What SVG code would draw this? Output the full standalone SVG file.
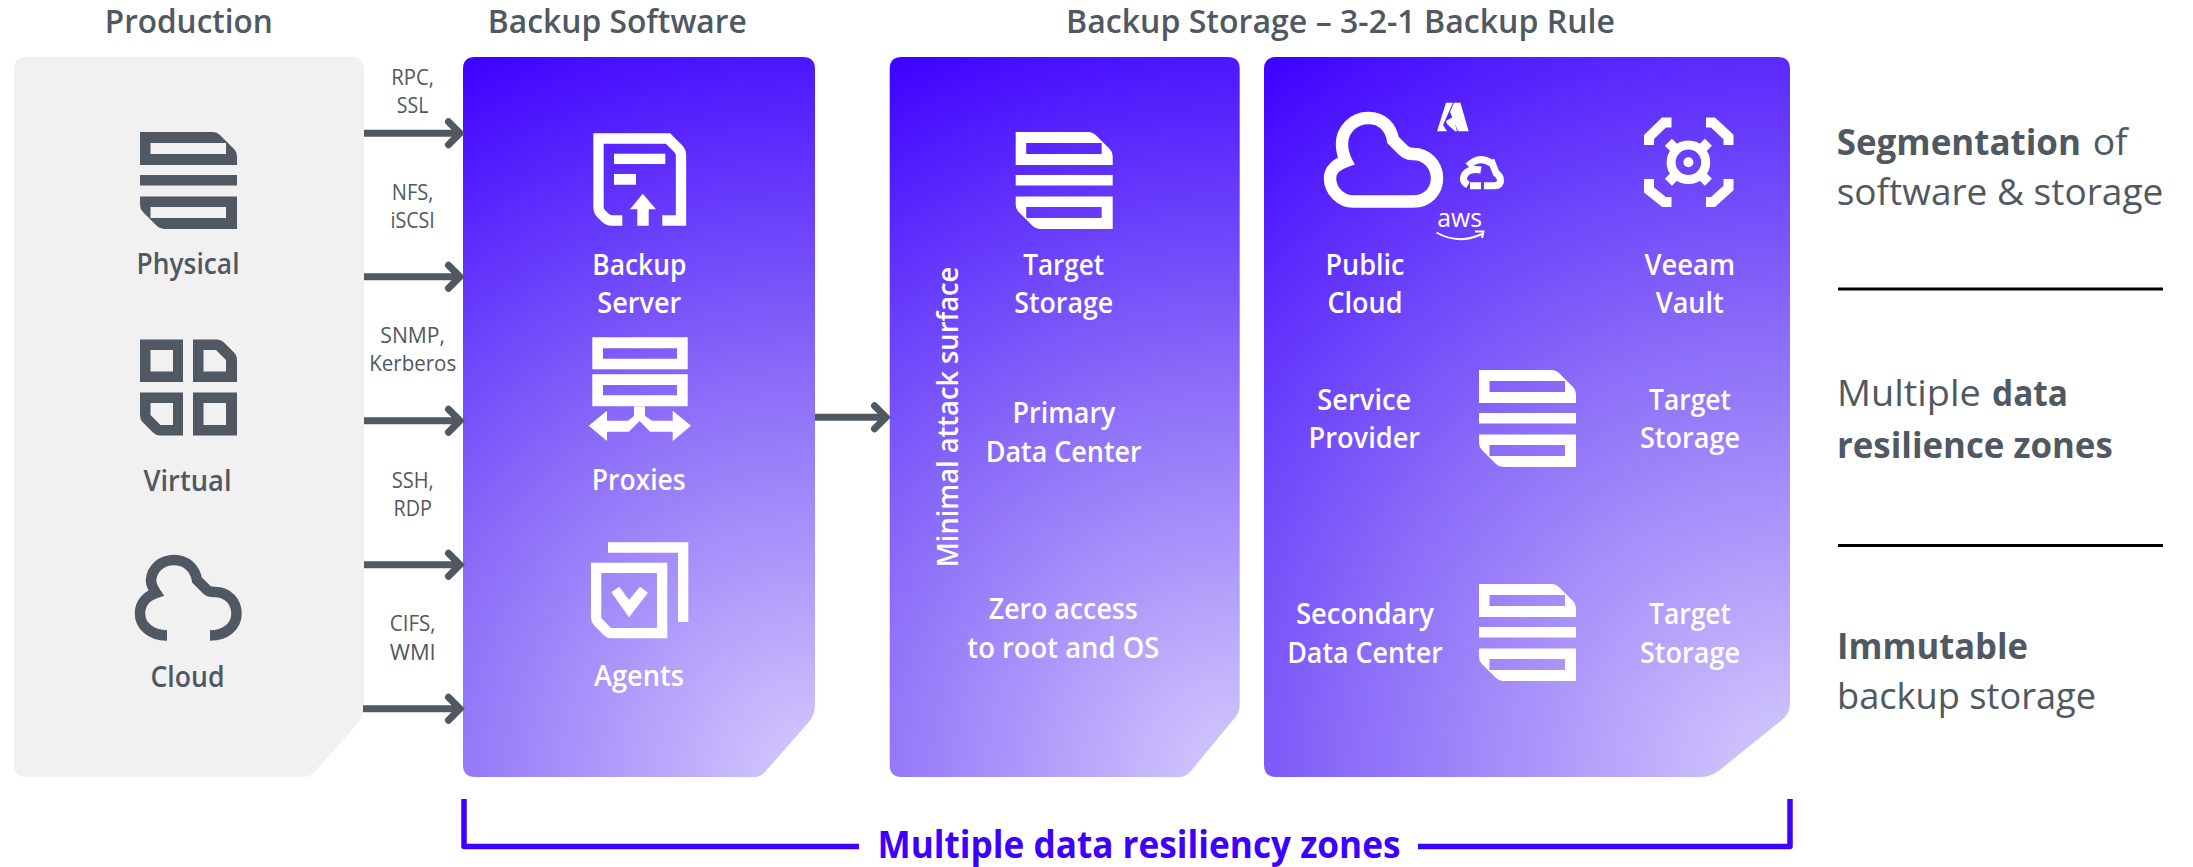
<svg xmlns="http://www.w3.org/2000/svg" xmlns:xlink="http://www.w3.org/1999/xlink" width="2193" height="867" viewBox="0 0 2193 867">
<style>
text{font-family:"Open Sans","Noto Sans","Liberation Sans",sans-serif;text-anchor:middle}
.h{font-size:33px;font-weight:600;fill:#505861}
.g{font-size:28px;font-weight:600;fill:#505861}
.e{font-size:22.500px;font-weight:400;fill:#505861}
.w{font-size:28px;font-weight:600;fill:#fff}
.r{font-size:36px;fill:#505861;text-anchor:start}
.b{font-weight:700}
.wf{fill:#fff}
.gf{fill:#505861}
.st{fill:none;stroke:#fff;stroke-width:10.3}
.arrow{fill:none;stroke:#505861;stroke-width:7;marker-end:url(#chev)}
</style>
<defs>
<marker id="chev" markerUnits="userSpaceOnUse" markerWidth="22" markerHeight="34" refX="16" refY="17" orient="auto" viewBox="0 0 22 34" overflow="visible"><path d="M4.500 5.500L16 17L4.500 28.500" fill="none" stroke="#505861" stroke-width="7" stroke-linecap="round"/></marker>
<radialGradient id="g2" gradientUnits="userSpaceOnUse" cx="815" cy="777" r="801"><stop offset="0" stop-color="#d6ccfd"/><stop offset=".5" stop-color="#8a6cf8"/><stop offset="1" stop-color="#3d00ff"/></radialGradient>
<radialGradient id="g3" gradientUnits="userSpaceOnUse" cx="1240" cy="777" r="801"><stop offset="0" stop-color="#d6ccfd"/><stop offset=".5" stop-color="#8a6cf8"/><stop offset="1" stop-color="#3d00ff"/></radialGradient>
<radialGradient id="g4" gradientUnits="userSpaceOnUse" cx="1790" cy="777" r="892"><stop offset="0" stop-color="#d6ccfd"/><stop offset=".5" stop-color="#8a6cf8"/><stop offset="1" stop-color="#3d00ff"/></radialGradient>
<path id="storage" fill-rule="evenodd" d="M0 0H73Q77 0 80 3L94 17Q97 20 97 24V33H0ZM10.500 11V22H86V11ZM0 43H97V53.500H0ZM0 64.500H97V97H24Q20 97 17 94L3 80Q0 77 0 73ZM10.500 75V86H86V75Z"/>
</defs>

<g id="headings">
<text class="h" x="188.800" y="33" textLength="168" lengthAdjust="spacingAndGlyphs">Production</text>
<text class="h" x="617.300" y="33" textLength="259" lengthAdjust="spacingAndGlyphs">Backup Software</text>
<text class="h" x="1340.500" y="33" textLength="549" lengthAdjust="spacingAndGlyphs">Backup Storage – 3-2-1 Backup Rule</text>
</g>

<g id="production">
<path fill="#f1f1f1" d="M26 57H352Q364 57 364 69V705Q364 715 358 723L315 771.500Q310 777 303 777H26Q14 777 14 765V69Q14 57 26 57Z"/>
<g id="physical"><use href="#storage" x="140" y="132" class="gf"/><text class="g" x="188" y="274" textLength="103" lengthAdjust="spacingAndGlyphs">Physical</text></g>
<g id="virtual">
<path class="gf" fill-rule="evenodd" d="M140 339.500H183V382H140ZM150.500 350V371.500H173V350ZM193 339.500H217Q221 339.500 224 342.500L234 352.500Q237 355.500 237 360V382H193ZM203.500 350V371.500H226V360L216 350ZM140 392.500H183V435.500H160Q156 435.500 153 432.500L143 422.500Q140 419.500 140 415ZM150.500 403V415L160.500 425H173V403ZM193 392.500H237V435.500H193ZM203.500 403V425H226V403Z"/>
<text class="g" x="187.500" y="490.700" textLength="88" lengthAdjust="spacingAndGlyphs">Virtual</text></g>
<g id="cloud">
<path fill="none" stroke="#505861" stroke-width="10.500" d="M167 635.500C150 635.500 140 625 140 613.500C140 603 147 596 156 593C152 587 151 583 151 580C152 568 162 560 174 560C186 560 195 568 197 580L207 590C209 592 212 592 215 592C228 592 236.500 602 236.500 613.500C236.500 626 226 635.500 210 635.500"/>
<text class="g" x="187.500" y="686.700" textLength="74" lengthAdjust="spacingAndGlyphs">Cloud</text></g>
</g>

<g id="backup-software">
<path fill="url(#g2)" d="M475 57H803Q815 57 815 69V705Q815 715 808 723L766.700 770Q761 777 755 777H475Q463 777 463 765V69Q463 57 475 57Z"/>
<g id="backup-server">
<path class="st" d="M622.300 220.500H612Q608 220.500 605 217.500L601.500 214L601 213.500Q598.500 211 598.500 207V138.500H668L678 148.500Q681 151.500 681 155V220.500H662.300"/>
<path class="wf" d="M614 153.700H665.300V164H614ZM614 174H636V184.700H614ZM642.700 193.700L656 209.300H648.700V225.700H637.300V209.300H630Z"/>
<text class="w" x="639.300" y="275" textLength="94" lengthAdjust="spacingAndGlyphs">Backup</text>
<text class="w" x="639.300" y="313.300" textLength="84" lengthAdjust="spacingAndGlyphs">Server</text></g>
<g id="proxies">
<path class="wf" fill-rule="evenodd" d="M592.300 337.300H687.700V369.300H592.300ZM603 348.300V358.700H677V348.300ZM592.300 374.300H687.700V406.300H592.300ZM603 385V395.300H677V385ZM588.700 425.700L607 410.700V420.700H628L634 416V406H645V416L652 420.700H672.700V410.700L691 425.700L672.700 441V431.700H650L639.500 421L629 431.700H607V441Z"/>
<text class="w" x="638.700" y="490" textLength="94" lengthAdjust="spacingAndGlyphs">Proxies</text></g>
<g id="agents">
<path class="wf" fill-rule="evenodd" d="M608 542.300H688.300V622H678V552.700H608ZM591 562.700H667.300V638.300H611Q607 638.300 604 635.300L594 625.300Q591 622.300 591 618ZM601.300 573V618L611 628H657V573ZM611.300 592.300L619.300 586.700L629 600L640 586.700L648 592.700L629 617.300Z"/>
<text class="w" x="639" y="686" textLength="90" lengthAdjust="spacingAndGlyphs">Agents</text></g>
</g>

<g id="primary-storage">
<path fill="url(#g3)" d="M901.700 57H1227.700Q1239.700 57 1239.700 69V705Q1239.700 713 1233 720L1191.700 770Q1186 777 1180 777H901.700Q889.700 777 889.700 765V69Q889.700 57 901.700 57Z"/>
<g id="target-storage-primary"><use href="#storage" x="1015.700" y="132" class="wf"/>
<text class="w" x="1063.700" y="275" textLength="81" lengthAdjust="spacingAndGlyphs">Target</text>
<text class="w" x="1063.700" y="313.300" textLength="99" lengthAdjust="spacingAndGlyphs">Storage</text></g>
<text class="w" x="1064" y="422.700" textLength="103" lengthAdjust="spacingAndGlyphs">Primary</text>
<text class="w" x="1063.700" y="461.700" textLength="156" lengthAdjust="spacingAndGlyphs">Data Center</text>
<text class="w" x="1063.300" y="619" textLength="149" lengthAdjust="spacingAndGlyphs">Zero access</text>
<text class="w" x="1063.300" y="657.700" textLength="192" lengthAdjust="spacingAndGlyphs">to root and OS</text>
<text class="w" transform="translate(957.700 417) rotate(-90)" x="0" y="0" textLength="300.600" lengthAdjust="spacingAndGlyphs">Minimal attack surface</text>
</g>

<g id="secondary-storage">
<path fill="url(#g4)" d="M1276 57H1778Q1790 57 1790 69V705Q1790 714 1780 721.500L1719.700 770Q1711 777 1700.800 777H1276Q1264 777 1264 765V69Q1264 57 1276 57Z"/>
<g id="public-cloud">
<path fill="none" stroke="#fff" stroke-width="12.400" d="M1353 201.500H1413C1428 201.500 1437 191 1437 178C1437 165 1427 154 1413 154C1407 154 1405 152 1401 148L1393 140C1391 127 1382 118 1368.500 118C1353 118 1342 130 1342 144C1342 150 1343 155 1346 161C1337 164 1330 170 1330 178C1330 191 1341 201.500 1353 201.500Z"/>
<path class="wf" d="M1437 131.300L1446 102.700H1453L1443 125L1447 131.300ZM1454 102.700H1460.400L1468.700 131.300H1458L1450 112ZM1446 121L1453 117L1457 131.300H1455L1447 124Z"/>
<path fill="none" stroke="#fff" stroke-width="7" d="M1468 166Q1479 155 1491 163M1491 160L1496 173Q1500.500 176 1500.500 180.500Q1500.500 185.700 1494 185.700H1484M1481 185.700H1470M1481 170Q1470 168 1465 174Q1461 181 1468 185"/>
<text x="1437.300" y="227.300" style="font-size:26px;fill:#fff;text-anchor:start" textLength="44.700" lengthAdjust="spacingAndGlyphs">aws</text>
<path fill="none" stroke="#fff" stroke-width="2" d="M1436.500 232.500Q1458 245 1482 234M1475 231.500L1483.500 231.500L1482 238"/>
<text class="w" x="1365" y="275" textLength="79" lengthAdjust="spacingAndGlyphs">Public</text>
<text class="w" x="1365" y="313.300" textLength="75" lengthAdjust="spacingAndGlyphs">Cloud</text></g>
<g id="veeam-vault">
<path fill="none" stroke="#fff" stroke-width="10" d="M1649 145V137L1664 122.500H1671.500M1706 122.500H1713L1728.500 137V145M1649 179V190L1664 202H1671.500M1706 202H1713L1728.500 188V179"/>
<circle cx="1688.400" cy="162.300" r="17.300" fill="none" stroke="#fff" stroke-width="9"/>
<circle cx="1688.400" cy="162.300" r="5" class="wf"/>
<path fill="none" stroke="#fff" stroke-width="10" d="M1675.400 149.300L1668.400 142.300M1701.400 149.300L1708.400 142.300M1675.400 175.300L1668.400 182.300M1701.400 175.300L1708.400 182.300"/>
<text class="w" x="1689.800" y="275" textLength="90.600" lengthAdjust="spacingAndGlyphs">Veeam</text>
<text class="w" x="1689.800" y="313.300" textLength="68" lengthAdjust="spacingAndGlyphs">Vault</text></g>
<g id="service-provider">
<text class="w" x="1364.300" y="409.600" textLength="94" lengthAdjust="spacingAndGlyphs">Service</text>
<text class="w" x="1364.300" y="447.600" textLength="111.600" lengthAdjust="spacingAndGlyphs">Provider</text>
<use href="#storage" x="1479" y="370" class="wf"/>
<text class="w" x="1690" y="409.600" textLength="82" lengthAdjust="spacingAndGlyphs">Target</text>
<text class="w" x="1690" y="447.600" textLength="100" lengthAdjust="spacingAndGlyphs">Storage</text></g>
<g id="secondary-data-center">
<text class="w" x="1365" y="624" textLength="138" lengthAdjust="spacingAndGlyphs">Secondary</text>
<text class="w" x="1365" y="662.700" textLength="155.600" lengthAdjust="spacingAndGlyphs">Data Center</text>
<use href="#storage" x="1479" y="584" class="wf"/>
<text class="w" x="1690" y="624" textLength="82" lengthAdjust="spacingAndGlyphs">Target</text>
<text class="w" x="1690" y="662.700" textLength="100" lengthAdjust="spacingAndGlyphs">Storage</text></g>
</g>

<g id="connectors">
<line class="arrow" x1="364" y1="133.300" x2="460" y2="133.300"/>
<line class="arrow" x1="364" y1="276.700" x2="460" y2="276.700"/>
<line class="arrow" x1="364" y1="420.700" x2="460" y2="420.700"/>
<line class="arrow" x1="364" y1="564.700" x2="460" y2="564.700"/>
<line class="arrow" x1="363" y1="708.700" x2="460" y2="708.700"/>
<line class="arrow" x1="815" y1="417.300" x2="886" y2="417.300"/>
<path fill="none" stroke="#3d00ff" stroke-width="5.500" stroke-linejoin="round" d="M464 799V846.500H859M1418 846.500H1790V799"/>
</g>

<g id="connector-labels">
<text class="e" x="412.700" y="85" textLength="42.700" lengthAdjust="spacingAndGlyphs">RPC,</text>
<text class="e" x="412.700" y="113.300" textLength="31.700" lengthAdjust="spacingAndGlyphs">SSL</text>
<text class="e" x="412.700" y="200" textLength="41.700" lengthAdjust="spacingAndGlyphs">NFS,</text>
<text class="e" x="412.700" y="228.300" textLength="44.300" lengthAdjust="spacingAndGlyphs">iSCSI</text>
<text class="e" x="412.700" y="343" textLength="64.700" lengthAdjust="spacingAndGlyphs">SNMP,</text>
<text class="e" x="412.700" y="371.200" textLength="87" lengthAdjust="spacingAndGlyphs">Kerberos</text>
<text class="e" x="412.700" y="487.500" textLength="42" lengthAdjust="spacingAndGlyphs">SSH,</text>
<text class="e" x="412.700" y="515.700" textLength="38.300" lengthAdjust="spacingAndGlyphs">RDP</text>
<text class="e" x="412.700" y="631.300" textLength="45.700" lengthAdjust="spacingAndGlyphs">CIFS,</text>
<text class="e" x="412.700" y="659.500" textLength="46" lengthAdjust="spacingAndGlyphs">WMI</text>
</g>

<text id="zones-label" x="1139" y="858" style="font-size:37px;font-weight:700;fill:#3d00ff" textLength="523" lengthAdjust="spacingAndGlyphs">Multiple data resiliency zones</text>

<g id="takeaways">
<text class="r" y="155"><tspan class="b" x="1836.700" textLength="244.300" lengthAdjust="spacingAndGlyphs">Segmentation</tspan> <tspan x="2092.700" textLength="35" lengthAdjust="spacingAndGlyphs">of</tspan></text>
<text class="r" x="1836.700" y="205.400" textLength="326.600" lengthAdjust="spacingAndGlyphs">software &amp; storage</text>
<line x1="1838" y1="289" x2="2163" y2="289" stroke="#000" stroke-width="3"/>
<text class="r" y="406"><tspan x="1837" textLength="143.700" lengthAdjust="spacingAndGlyphs">Multiple</tspan> <tspan class="b" x="1992" textLength="76" lengthAdjust="spacingAndGlyphs">data</tspan></text>
<text class="r b" x="1837" y="457.500" textLength="275.700" lengthAdjust="spacingAndGlyphs">resilience zones</text>
<line x1="1838" y1="545.500" x2="2163" y2="545.500" stroke="#000" stroke-width="3"/>
<text class="r b" x="1837" y="658.700" textLength="191" lengthAdjust="spacingAndGlyphs">Immutable</text>
<text class="r" x="1837" y="709" textLength="259" lengthAdjust="spacingAndGlyphs">backup storage</text>
</g>
</svg>
